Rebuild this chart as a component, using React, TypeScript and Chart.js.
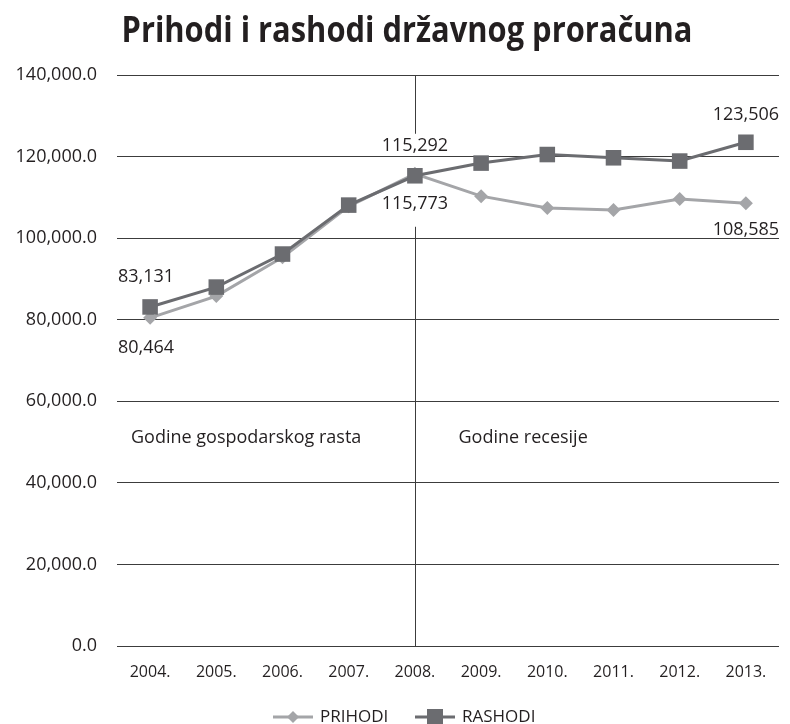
import React, { useEffect, useRef } from "react";
import { Chart, registerables } from "chart.js";

Chart.register(...registerables);

const TITLE = "Prihodi i rashodi državnog proračuna";
const years = ["2004.", "2005.", "2006.", "2007.", "2008.", "2009.", "2010.", "2011.", "2012.", "2013."];
const prihodi = [80464, 85800, 95300, 107800, 115773, 110300, 107400, 106900, 109600, 108585];
const rashodi = [83131, 88000, 96100, 108100, 115292, 118400, 120500, 119700, 118900, 123506];
const seriesNames = ["PRIHODI", "RASHODI"];
const yMin = 0;
const yMax = 140000;
const yStep = 20000;
// labelled points: [datasetIndex, pointIndex, placement]
const labelledPoints: [number, number, "above" | "below"][] = [
  [1, 0, "above"],
  [0, 0, "below"],
  [1, 4, "above"],
  [0, 4, "below"],
  [1, 9, "above"],
  [0, 9, "below"],
];
const dividerIndex = 4;
const regionTexts = ["Godine gospodarskog rasta", "Godine recesije"];
const regionTextValue = 51000;

const FONT = "'Open Sans', 'Noto Sans', sans-serif";
const TEXT = "#231f20";
const LIGHT = "#a4a5a8";
const DARK = "#6b6c70";
const GRID = "#3c3c3c";

const fmt = (v: number) => v.toLocaleString("en-US");

const overlayPlugin = {
  id: "overlay",
  beforeDatasetsDraw(chart: any) {
    const { ctx, chartArea } = chart;
    const meta = chart.getDatasetMeta(1);
    const pt = meta.data[dividerIndex];
    const x = Math.round(pt.x) + 0.5;
    ctx.save();
    ctx.strokeStyle = GRID;
    ctx.lineWidth = 1;
    ctx.beginPath();
    ctx.moveTo(x, chartArea.top);
    ctx.lineTo(x, pt.y - 42);
    ctx.moveTo(x, pt.y + 51);
    ctx.lineTo(x, chartArea.bottom);
    ctx.stroke();
    // region texts
    const ys = chart.scales.y.getPixelForValue(regionTextValue);
    ctx.fillStyle = TEXT;
    ctx.font = `18px ${FONT}`;
    ctx.textAlign = "left";
    ctx.textBaseline = "middle";
    ctx.fillText(regionTexts[0], chartArea.left + 14, ys);
    ctx.fillText(regionTexts[1], x + 43, ys);
    ctx.restore();
  },
  afterDraw(chart: any) {
    const { ctx } = chart;
    ctx.save();
    // title
    ctx.fillStyle = TEXT;
    ctx.font = `bold 36px ${FONT}`;
    ctx.textAlign = "center";
    ctx.textBaseline = "alphabetic";
    const tw = ctx.measureText(TITLE).width;
    const target = 571;
    const sx = target / tw;
    ctx.save();
    ctx.translate(407, 42);
    ctx.scale(sx, 1);
    ctx.fillText(TITLE, 0, 0);
    ctx.restore();

    // data labels
    ctx.font = `18px ${FONT}`;
    ctx.textBaseline = "middle";
    ctx.textAlign = "center";
    labelledPoints.forEach(([ds, i, place]) => {
      const el = chart.getDatasetMeta(ds).data[i];
      const v = chart.data.datasets[ds].data[i] as number;
      const off = i === 9 ? 27 : 30;
      const y = place === "above" ? el.y - off : el.y + off;
      ctx.fillText(fmt(v), el.x - (i === 0 ? 4 : 0), y);
    });

    // legend
    const ly = 717;
    const items = [
      { x0: 273, color: LIGHT, style: "diamond" },
      { x0: 415, color: DARK, style: "square" },
    ];
    items.forEach((it, k) => {
      ctx.strokeStyle = it.color;
      ctx.fillStyle = it.color;
      ctx.lineWidth = 3;
      ctx.beginPath();
      ctx.moveTo(it.x0, ly);
      ctx.lineTo(it.x0 + 40, ly);
      ctx.stroke();
      const cx = it.x0 + 20;
      ctx.beginPath();
      if (it.style === "diamond") {
        ctx.moveTo(cx, ly - 6);
        ctx.lineTo(cx + 6, ly);
        ctx.lineTo(cx, ly + 6);
        ctx.lineTo(cx - 6, ly);
        ctx.closePath();
      } else {
        ctx.rect(cx - 8, ly - 8, 16, 16);
      }
      ctx.fill();
      ctx.fillStyle = TEXT;
      ctx.font = `17px ${FONT}`;
      ctx.textAlign = "left";
      ctx.textBaseline = "middle";
      ctx.fillText(seriesNames[k], it.x0 + 47, ly);
    });
    ctx.restore();
  },
};

export default function App() {
  const ref = useRef<HTMLCanvasElement | null>(null);
  useEffect(() => {
    if (!ref.current) return;
    const chart = new Chart(ref.current, {
      type: "line",
      data: {
        labels: years,
        datasets: [
          {
            label: seriesNames[0],
            data: prihodi,
            borderColor: LIGHT,
            backgroundColor: LIGHT,
            borderWidth: 3,
            pointStyle: "rectRot",
            pointRadius: 7,
            pointBorderWidth: 0,
            tension: 0,
            order: 1,
          },
          {
            label: seriesNames[1],
            data: rashodi,
            borderColor: DARK,
            backgroundColor: DARK,
            borderWidth: 3,
            pointStyle: "rect",
            pointRadius: 11,
            pointBorderWidth: 0,
            tension: 0,
            order: 0,
          },
        ],
      },
      options: {
        responsive: false,
        animation: false,
        layout: { padding: { top: 75, right: 3, left: 0, bottom: 0 } },
        plugins: {
          legend: { display: false },
          title: { display: false },
          tooltip: { enabled: false },
        },
        scales: {
          x: {
            offset: true,
            grid: { display: false, drawTicks: false },
            border: { display: false },
            ticks: {
              color: TEXT,
              font: { family: FONT, size: 16 },
              padding: 17,
              maxRotation: 0,
            },
            afterFit: (s: any) => {
              s.height = 78;
            },
          },
          y: {
            min: yMin,
            max: yMax,
            grid: { color: GRID, lineWidth: 1, drawTicks: false },
            border: { display: false },
            ticks: {
              stepSize: yStep,
              color: TEXT,
              font: { family: FONT, size: 18 },
              padding: 20,
              callback: (v: any) =>
                Number(v).toLocaleString("en-US", { minimumFractionDigits: 1, maximumFractionDigits: 1 }),
            },
            afterFit: (s: any) => {
              s.width = 117;
            },
          },
        },
      },
      plugins: [overlayPlugin],
    });
    return () => chart.destroy();
  }, []);
  return (
    <div style={{ position: "fixed", left: 0, top: 0, width: 790, height: 724, background: "#fff" }}>
      <canvas ref={ref} width={790} height={724} />
    </div>
  );
}
